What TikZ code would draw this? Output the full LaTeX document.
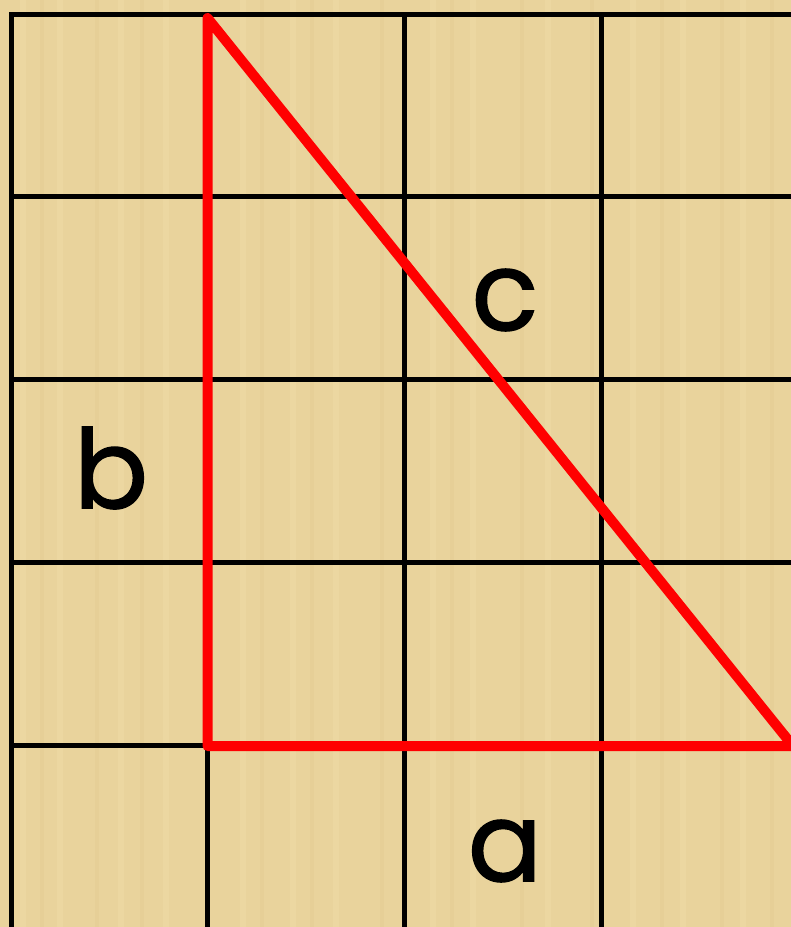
\documentclass[tikz,border=0pt]{standalone}
\usepackage{fontspec}
\setmainfont{Poppins}
\newfontfamily\labelfont{Poppins}[FakeBold=1.2]
\definecolor{papyrus}{RGB}{233,211,156}
\definecolor{papyrusdark}{RGB}{222,196,138}
\definecolor{papyruslight}{RGB}{242,224,172}
\definecolor{trired}{RGB}{255,0,0}
\tikzset{
  gridline/.style={line width=5pt, black, line cap=rect},
  triline/.style={line width=10pt, trired, line join=round, line cap=round},
  sidelabel/.style={font=\labelfont\fontsize{110}{110}\selectfont, text=black, inner sep=0pt, anchor=center}
}
\begin{document}
\begin{tikzpicture}[x=1pt,y=-1pt]
\useasboundingbox (0,0) rectangle (791,927);
\clip (0,0) rectangle (791,927);
\fill[papyrus] (0,0) rectangle (791,927);
% subtle texture bands
\foreach \xx in {20,57,118,163,240,290,333,430,470,545,630,680,740}{
  \fill[papyruslight,opacity=0.35] (\xx,0) rectangle ++(6,927);
}
\foreach \xx in {40,95,140,260,310,380,450,520,590,660,720,770}{
  \fill[papyrusdark,opacity=0.25] (\xx,0) rectangle ++(4,927);
}
% grid
\draw[gridline] (11,14) -- (795,14);
\foreach \yy in {196.5,379.5,562,745}{
  \draw[gridline] (11,\yy) -- (795,\yy);
}
\foreach \xx in {11,207.5,404,601}{
  \draw[gridline] (\xx,14) -- (\xx,935);
}
% triangle
\coordinate (A) at (207.5,18);
\coordinate (B) at (207.5,746);
\coordinate (C) at (793,746);
\draw[triline] (A) -- (B) -- (C) -- cycle;
% labels
\node[sidelabel] (lc) at (505,300) {c};
\node[sidelabel] (lb) at (111,468) {b};
\node[sidelabel] (la) at (505,851) {a};
\end{tikzpicture}
\end{document}
